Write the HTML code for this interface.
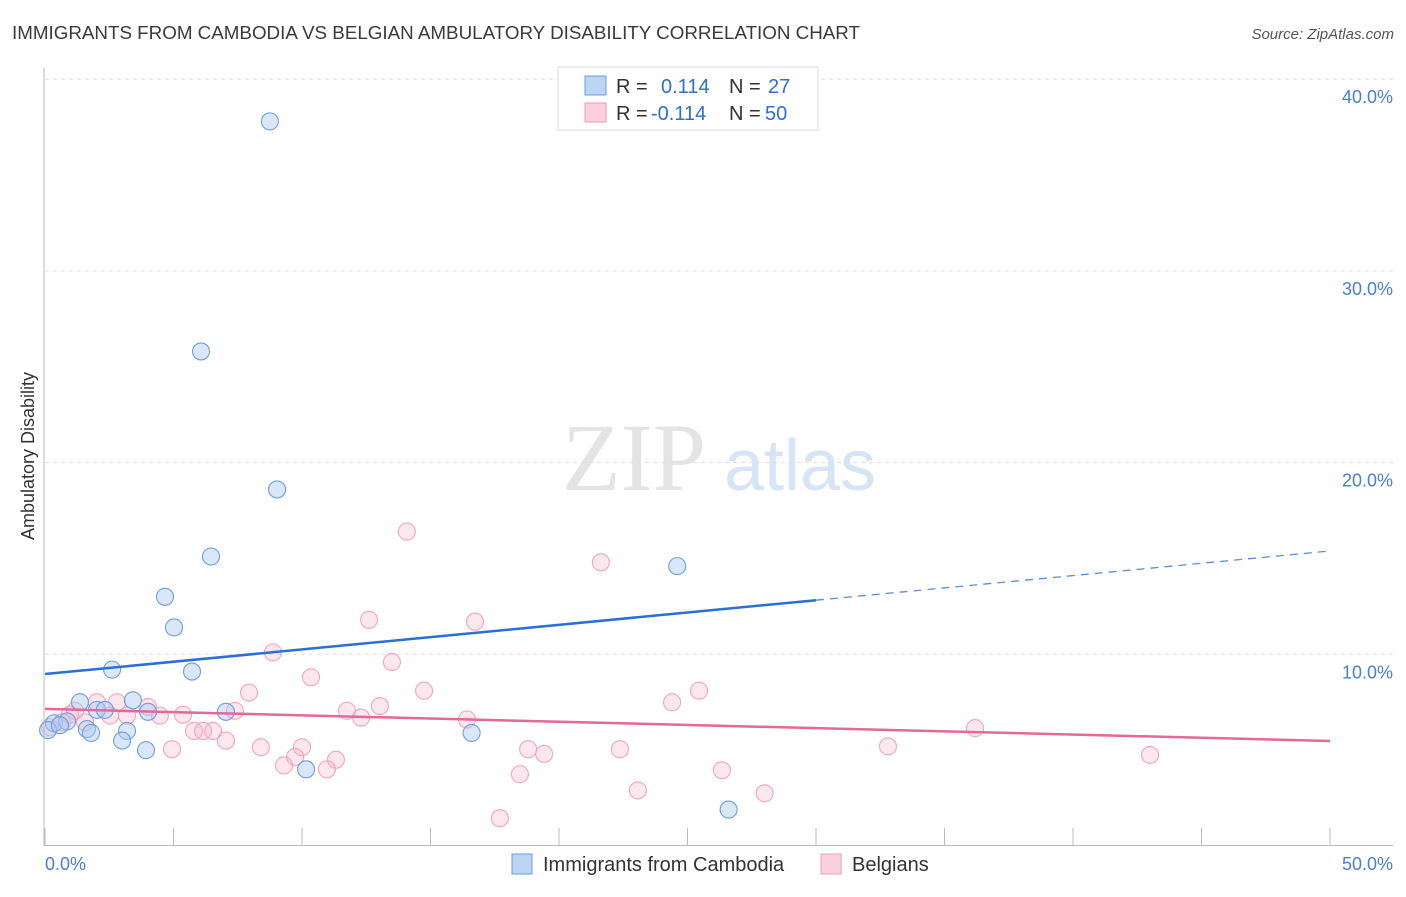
<!DOCTYPE html>
<html><head><meta charset="utf-8"><style>
body{margin:0;background:#fff;font-family:"Liberation Sans",sans-serif}
</style></head><body>
<svg id="c" width="1406" height="892" xmlns="http://www.w3.org/2000/svg" style="font-family:'Liberation Sans',sans-serif">
<text x="12" y="39" font-size="18" fill="#3a3a3a" textLength="848" lengthAdjust="spacingAndGlyphs">IMMIGRANTS FROM CAMBODIA VS BELGIAN AMBULATORY DISABILITY CORRELATION CHART</text>
<text x="1394" y="39" font-size="15" fill="#555" text-anchor="end" font-style="italic">Source: ZipAtlas.com</text>
<text x="634" y="490" font-size="96" fill="#e4e4e4" text-anchor="middle" font-family="Liberation Serif">ZIP</text>
<text x="800" y="490" font-size="72" fill="#d6e4f5" text-anchor="middle">atlas</text>
<text transform="translate(34,456) rotate(-90)" font-size="18" fill="#333" text-anchor="middle">Ambulatory Disability</text>
<g id="grid"></g><g id="ticks"></g><g id="pts"></g><g id="lines"></g>
<line x1="44" y1="68" x2="44" y2="846" stroke="#bbb"/>
<line x1="44" y1="845.5" x2="1393" y2="845.5" stroke="#bbb"/>
<text x="45" y="870" font-size="18" fill="#4a7fd4">0.0%</text>
<text x="1393" y="870" font-size="18" fill="#4a7fd4" text-anchor="end">50.0%</text>
<g>
<rect x="558" y="67" width="260" height="63" fill="#fff" stroke="#ddd"/>
<rect x="585" y="76" width="21" height="19" fill="#bcd5f5" stroke="#6a9de0"/>
<rect x="585" y="103" width="21" height="19" fill="#fbd0de" stroke="#ee9ab5"/>
<text x="616" y="93" font-size="20" fill="#333">R = <tspan fill="#2f6fd0" x="661">0.114</tspan><tspan fill="#333" x="729">N =</tspan><tspan fill="#2f6fd0" x="768">27</tspan></text>
<text x="616" y="120" font-size="20" fill="#333">R = <tspan fill="#2f6fd0" x="651">-0.114</tspan><tspan fill="#333" x="729">N =</tspan><tspan fill="#2f6fd0" x="765">50</tspan></text>
</g>
<g>
<rect x="512" y="854" width="20" height="20" fill="#bcd5f5" stroke="#6a9de0"/>
<text x="543" y="871" font-size="20" fill="#333">Immigrants from Cambodia</text>
<rect x="821" y="854" width="20" height="20" fill="#fbd0de" stroke="#ee9ab5"/>
<text x="852" y="871" font-size="20" fill="#333">Belgians</text>
</g>
</svg>
<script>
const yTicks=[10,20,30,40];
const yTickLabels=["10.0%","20.0%","30.0%","40.0%"];
const xTicks=[0,5,10,15,20,25,30,35,40,45,50];
const blueX=[8.75,6.07,9.03,6.46,4.67,5.02,24.6,2.61,5.72,1.36,3.42,2.02,2.33,4.01,7.04,0.35,0.86,1.63,1.79,3.19,3.0,3.93,10.16,16.6,26.6,0.12,0.58];
const blueY=[37.8,25.8,18.6,15.1,13.0,11.4,14.6,9.2,9.1,7.5,7.6,7.1,7.1,7.0,7.0,6.4,6.5,6.1,5.9,6.0,5.5,5.0,4.0,5.9,1.9,6.05,6.3];
const pinkX=[14.08,21.63,12.61,16.73,8.87,13.5,10.35,25.45,7.94,14.75,24.4,2.8,4.01,7.39,11.75,13.03,12.3,5.37,4.47,16.42,3.19,36.19,5.8,6.54,6.15,7.04,8.4,10.0,4.94,18.8,32.8,22.37,19.42,43.0,9.73,11.32,9.3,10.97,26.34,18.48,23.07,28.0,17.7,2.02,2.53,0.97,0.66,0.19,1.56,1.17];
const pinkY=[16.4,14.8,11.8,11.7,10.1,9.6,8.8,8.1,8.0,8.1,7.5,7.5,7.25,7.05,7.05,7.3,6.7,6.85,6.8,6.6,6.8,6.15,6.0,6.0,6.0,5.5,5.15,5.15,5.05,5.05,5.2,5.05,4.8,4.75,4.65,4.5,4.2,4.0,3.95,3.75,2.9,2.75,1.45,7.5,6.8,6.85,6.45,6.2,6.45,7.05];
const blueTrend=[8.97,15.39], blueSolidEnd=30;
const pinkTrend=[7.15,5.48];
const X=v=>45+v*25.7, Y=v=>846-v*19.17;
const NS="http://www.w3.org/2000/svg";
function mk(p,t,a){const e=document.createElementNS(NS,t);for(const k in a)e.setAttribute(k,a[k]);document.getElementById(p).appendChild(e);return e;}
yTicks.forEach((t,i)=>{
 const l=mk('grid','line',{x1:45,x2:1393,y1:Y(t),y2:Y(t),stroke:'#ddd','stroke-dasharray':'4,4'});
 
 
 const tx=mk('grid','text',{x:1393,y:Y(t)+24,'font-size':18,fill:'#4a7fd4','text-anchor':'end'});
 tx.textContent=yTickLabels[i];
 
 
});
xTicks.forEach(t=>{
 const l=mk('ticks','line',{x1:X(t),x2:X(t),y1:828,y2:846,stroke:'#bbb'});
 
 
});
pinkX.forEach((x,i)=>{
 const c=mk('pts','circle',{cx:X(x),cy:Y(pinkY[i]),r:8.5,fill:'rgba(247,175,200,0.3)',stroke:'#f0a5be','stroke-width':1.1});
 
 
});
blueX.forEach((x,i)=>{
 const c=mk('pts','circle',{cx:X(x),cy:Y(blueY[i]),r:8.5,fill:'rgba(170,202,242,0.45)',stroke:'#6f9ddd','stroke-width':1.1});
 
 
});
const by=x=>blueTrend[0]+(blueTrend[1]-blueTrend[0])*x/50;
const b1=mk('lines','line',{x1:X(0),y1:Y(by(0)),x2:X(blueSolidEnd),y2:Y(by(blueSolidEnd)),stroke:'#2a6fd6','stroke-width':2.5});


const b2=mk('lines','line',{x1:X(blueSolidEnd),y1:Y(by(blueSolidEnd)),x2:X(50),y2:Y(by(50)),stroke:'#5b8fd8','stroke-width':1.3,'stroke-dasharray':'8,6'});


const p1=mk('lines','line',{x1:X(0),y1:Y(pinkTrend[0]),x2:X(50),y2:Y(pinkTrend[1]),stroke:'#e4689a','stroke-width':2.5});


</script>
</body></html>
